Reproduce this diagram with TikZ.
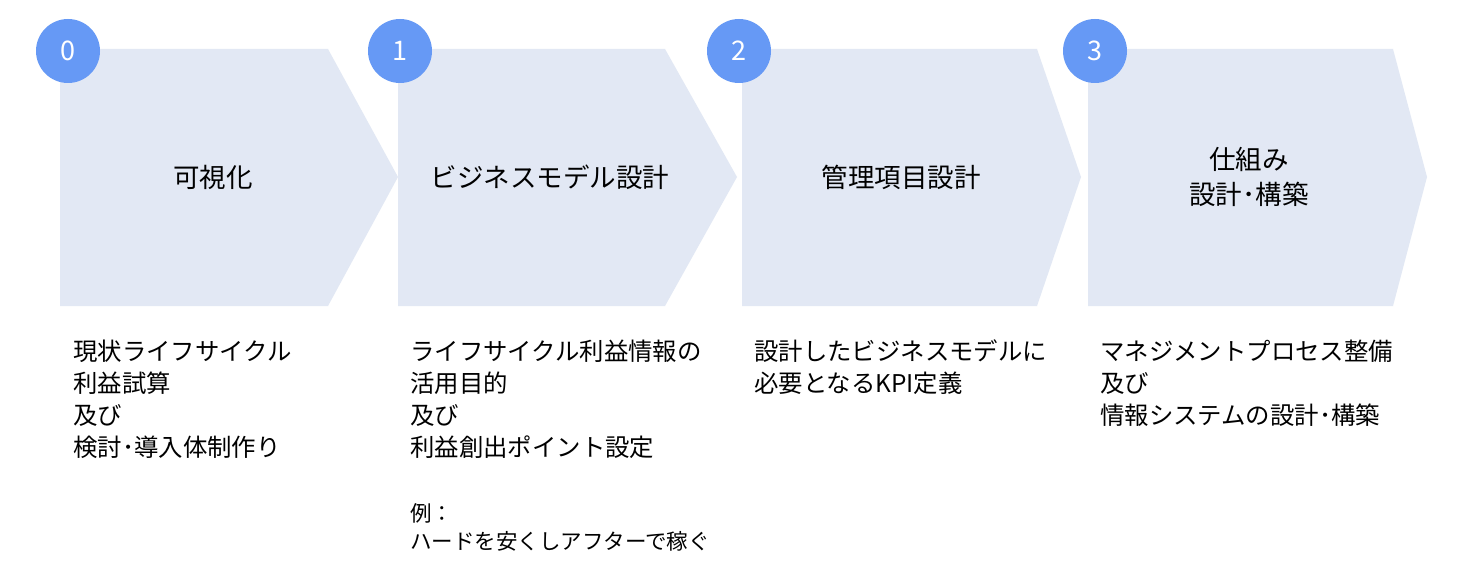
\documentclass[tikz,border=0pt]{standalone}
\usepackage{fontspec}
\setmainfont{Noto Sans CJK JP}
\definecolor{stepfill}{HTML}{E2E8F4}
\definecolor{badge}{HTML}{6699F5}
\begin{document}
\begin{tikzpicture}[x=1pt,y=-1pt,
  chevron/.style={fill=stepfill,draw=none},
  badgecirc/.style={circle,fill=badge,minimum size=64pt,inner sep=0pt,text=white,font=\fontsize{27}{27}\selectfont},
  title/.style={font=\fontsize{26.5}{35}\selectfont,align=center,inner sep=0pt},
  body/.style={font=\fontsize{24.4}{32}\selectfont,align=left,anchor=north west,inner sep=0pt},
  small/.style={font=\fontsize{21.5}{28}\selectfont,align=left,anchor=north west,inner sep=0pt}]
\useasboundingbox (0,0) rectangle (1462,583);
\fill[white] (0,0) rectangle (1462,583);
% chevrons
\fill[chevron] (60,49) -- (328,49) -- (398,177) -- (328,306) -- (60,306) -- cycle;
\fill[chevron] (398,49) -- (665,49) -- (737,177) -- (665,306) -- (398,306) -- cycle;
\fill[chevron] (742,49) -- (1037,49) -- (1081,177) -- (1037,306) -- (742,306) -- cycle;
\fill[chevron] (1088,49) -- (1393,49) -- (1427,177) -- (1393,306) -- (1088,306) -- cycle;
% badges
\node[badgecirc] (b0) at (68,51) {0};
\node[badgecirc] (b1) at (400,51) {1};
\node[badgecirc] (b2) at (739,51) {2};
\node[badgecirc] (b3) at (1095,51) {3};
% titles
\node[title] (t0) at (213,177) {可視化};
\node[title] (t1) at (550,177) {ビジネスモデル設計};
\node[title] (t2) at (901,177) {管理項目設計};
\node[title] (t3) at (1249,177) {仕組み\\設計･構築};
% descriptions
\node[body] (d0) at (73,340) {現状ライフサイクル\\利益試算\\及び\\検討･導入体制作り};
\node[body] (d1) at (410,340) {ライフサイクル利益情報の\\活用目的\\及び\\利益創出ポイント設定};
\node[small] (e1) at (410,503) {例：\\ハードを安くしアフターで稼ぐ};
\node[body] (d2) at (754,340) {設計したビジネスモデルに\\必要となるKPI定義};
\node[body] (d3) at (1100,340) {マネジメントプロセス整備\\及び\\情報システムの設計･構築};
\end{tikzpicture}
\end{document}
